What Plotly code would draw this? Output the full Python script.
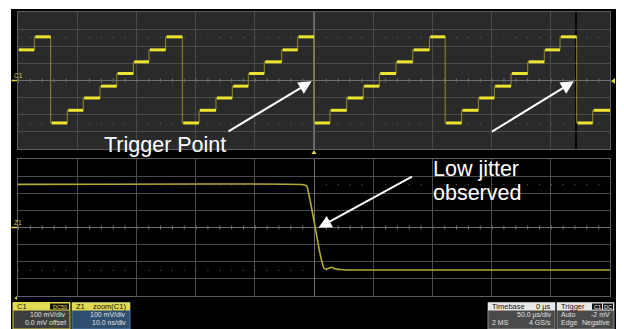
import plotly.graph_objects as go

W, H = 624, 329

# ---------------- data ----------------
# Top panel: C1, 50 us/div, 100 mV/div. Staircase: time at which each level begins (us)
step_start_us = [-250, -236.2, -222.4, -208.4, -194.9, -180.7, -166.6, -152.6, -139.4, -125.3,
                 -111.2, -97.1, -82.8, -69.0, -55.5, -42.0, -27.3, -13.8,
                 0, 13.5, 27.6, 41.6, 55.2, 69.3, 83.4, 97.5,
                 110.8, 124.7, 138.8, 152.3, 166.4, 180.5, 194.5, 207.8,
                 221.9, 235.4]
step_level_mv = [179, 255, -248, -174, -102, -33, 41, 109, 179, 255,
                 -248, -174, -102, -33, 41, 109, 179, 255,
                 -248, -174, -102, -33, 41, 109, 179, 255,
                 -248, -174, -102, -33, 41, 109, 179, 255,
                 -248, -174]
top_end_us = 250

# Bottom panel: Z1 = zoom(C1), 10 ns/div, 100 mV/div
zoom_t_ns = [-50, -2.1, -1.6, -1.2, -0.7, 0.2, 1.0, 1.5, 1.7, 2.1, 2.6, 3.0, 3.5, 4.4, 5.5, 50]
zoom_v_mv = [252, 251, 248, 240, 165, 2, -150, -220, -238, -243, -236, -232, -241, -245, -248, -248]

# ---------------- geometry helpers (pixels -> paper) ----------------
def px(x):
    return x / W

def py(y):
    return 1 - y / H

X0, X1 = 18, 610
TOP_Y0, TOP_Y1 = 12, 149
BOT_Y0, BOT_Y1 = 159, 296

fig = go.Figure()

# staircase: thin transitions
xs = step_start_us + [top_end_us]
ys = step_level_mv + [step_level_mv[-1]]
fig.add_trace(go.Scatter(x=xs, y=ys, mode="lines", line=dict(color="#8f8c2c", width=1, shape="hv"),
                         xaxis="x", yaxis="y", hoverinfo="skip", showlegend=False))
# staircase: bright plateaus
hx, hy = [], []
for i, lvl in enumerate(step_level_mv):
    hx += [xs[i] + 0.8, xs[i + 1], None]
    hy += [lvl, lvl, None]
fig.add_trace(go.Scatter(x=hx, y=hy, mode="lines", line=dict(color="#ece42e", width=3),
                         xaxis="x", yaxis="y", hoverinfo="skip", showlegend=False))

# zoomed edge
fig.add_trace(go.Scatter(x=zoom_t_ns, y=zoom_v_mv, mode="lines",
                         line=dict(color="#b3aa30", width=1.6, shape="spline", smoothing=0.6),
                         xaxis="x2", yaxis="y2", hoverinfo="skip", showlegend=False))

grid = "#4b4b4b"
axcommon = dict(showticklabels=False, ticks="", showgrid=True, gridcolor=grid, gridwidth=1,
                zeroline=True, zerolinecolor="#6e6e6e", zerolinewidth=1,
                showline=True, linecolor="#5e5e5e", linewidth=1, mirror=True, fixedrange=True)

fig.update_layout(
    width=W, height=H, margin=dict(l=0, r=0, t=0, b=0),
    paper_bgcolor="white", plot_bgcolor="black", showlegend=False,
    xaxis=dict(domain=[px(X0), px(X1)], range=[-250, 250], dtick=50, anchor="y", **axcommon),
    yaxis=dict(domain=[py(TOP_Y1), py(TOP_Y0)], range=[-400, 400], dtick=100, anchor="x", **axcommon),
    xaxis2=dict(domain=[px(X0), px(X1)], range=[-50, 50], dtick=10, anchor="y2", **axcommon),
    yaxis2=dict(domain=[py(BOT_Y1), py(BOT_Y0)], range=[-400, 400], dtick=100, anchor="x2", **axcommon),
)

shapes = []
# black instrument frame
shapes.append(dict(type="rect", xref="paper", yref="paper", x0=px(11), x1=px(616), y0=0, y1=py(9),
                   fillcolor="black", line=dict(width=0), layer="below"))
# top panel dark background
shapes.append(dict(type="rect", xref="paper", yref="paper", x0=px(X0), x1=px(X1), y0=py(TOP_Y1), y1=py(TOP_Y0),
                   fillcolor="#2a2a2a", line=dict(width=0), layer="below"))
# center tick marks & dotted lines
for xr, yr in (("x", "y"), ("x2", "y2")):
    shapes.append(dict(type="line", xref="paper", yref=yr, x0=px(X0), x1=px(X1), y0=0, y1=0,
                       line=dict(color="#707070", width=4, dash="1px,10.84px"), layer="below"))
    for lv in (250, -250):
        shapes.append(dict(type="line", xref="paper", yref=yr, x0=px(X0), x1=px(X1), y0=lv, y1=lv,
                           line=dict(color="#6a6a6a", width=1, dash="1px,10.84px"), layer="below"))
# trigger position line in top panel and dark cursor line
shapes.append(dict(type="line", xref="x", yref="paper", x0=0, x1=0, y0=py(TOP_Y1), y1=py(TOP_Y0),
                   line=dict(color="#9a9a9a", width=1), layer="below"))
shapes.append(dict(type="line", xref="x", yref="paper", x0=221.3, x1=221.3, y0=py(TOP_Y1), y1=py(TOP_Y0),
                   line=dict(color="#050505", width=2), layer="below"))
# C1 / Z1 ground markers
for yy in (80.5, 227.5):
    shapes.append(dict(type="line", xref="paper", yref="paper", x0=px(11.5), x1=px(17), y0=py(yy), y1=py(yy),
                       line=dict(color="#e0d840", width=1.5)))
# trigger position triangle (below top panel)
shapes.append(dict(type="path", xref="paper", yref="paper",
                   path=f"M {px(311.5)} {py(154)} L {px(316.5)} {py(154)} L {px(314)} {py(150)} Z",
                   fillcolor="#e0d840", line=dict(width=0)))
# trigger level triangle (right of top panel)
shapes.append(dict(type="path", xref="paper", yref="paper",
                   path=f"M {px(615)} {py(78)} L {px(615)} {py(84)} L {px(611)} {py(81)} Z",
                   fillcolor="#e0d840", line=dict(width=0)))
# small yellow marker bottom left
shapes.append(dict(type="path", xref="paper", yref="paper",
                   path=f"M {px(17)} {py(296)} L {px(17)} {py(300)} L {px(14.5)} {py(298)} Z",
                   fillcolor="#e0d840", line=dict(width=0)))

annotations = []
def txt(x, y, s, size=7, color="#e0e0e0", xanchor="left", family="Liberation Sans, Arial, sans-serif"):
    annotations.append(dict(x=px(x), y=py(y), xref="paper", yref="paper", text=s, showarrow=False,
                            xanchor=xanchor, yanchor="middle", font=dict(size=size, color=color, family=family)))

def rect(x0, x1, y0, y1, fill, line=None):
    shapes.append(dict(type="rect", xref="paper", yref="paper", x0=px(x0), x1=px(x1), y0=py(y1), y1=py(y0),
                       fillcolor=fill, line=dict(width=1 if line else 0, color=line or fill)))

# channel labels
txt(11.5, 75.5, "C1", size=6.5, color="#d8d040")
txt(11.5, 222.5, "Z1", size=6.5, color="#d8d040")

R0, R1, R2 = 306.5, 314.5, 322.5
# status boxes
rect(13, 70, 302.5, 329, "#3e3e3e", "#d8d040")
rect(13, 70, 302.5, 310.5, "#e2da50")
txt(15, R0, "C1", size=7.5, color="#111")
rect(50, 69, 303.5, 309.5, "#111111")
txt(59.5, R0, "DC50", size=5.5, color="#e2da50", xanchor="center")
txt(68, R1, "100 mV/div", xanchor="right")
txt(68, R2, "0.0 mV offset", xanchor="right")

rect(72, 130, 302.5, 329, "#2f4f70", "#4f7fb0")
rect(72, 130, 302.5, 310.5, "#e2da50")
txt(74, R0, "Z1", size=7.5, color="#111")
txt(128, R0, "zoom(C1)", size=7.5, color="#111", xanchor="right")
txt(128, R1, "100 mV/div", xanchor="right")
txt(128, R2, "10.0 ns/div", xanchor="right")

rect(488, 555, 302.5, 329, "#4a4a4a", "#8a8a8a")
rect(488, 555, 302.5, 310.5, "#e8e8e8")
txt(490, R0, "Timebase", size=7.5, color="#111")
txt(553, R0, "0 µs", size=7.5, color="#111", xanchor="right")
txt(553, R1, "50.0 µs/div", xanchor="right")
txt(490, R2, "2 MS")
txt(553, R2, "4 GS/s", xanchor="right")

rect(557, 614, 302.5, 329, "#4a4a4a", "#8a8a8a")
rect(557, 614, 302.5, 310.5, "#e8e8e8")
txt(559, R0, "Trigger", size=7.5, color="#111")
rect(592, 602, 303.5, 309.5, "#111111")
txt(597, R0, "C1", size=5.5, color="#ffffff", xanchor="center")
rect(603, 613, 303.5, 309.5, "#111111")
txt(608, R0, "DC", size=5.5, color="#ffffff", xanchor="center")
txt(559, R1, "Auto")
txt(612, R1, "-2 mV", xanchor="right")
txt(559, R2, "Edge")
txt(612, R2, "Negative", xanchor="right")

# callout arrows
def arrow(xref, yref, x, y, ax, ay):
    annotations.append(dict(x=x, y=y, ax=ax, ay=ay, xref=xref, yref=yref, axref=xref, ayref=yref,
                            text="", showarrow=True, arrowhead=2, arrowsize=1.3, arrowwidth=2,
                            arrowcolor="white", standoff=0))

arrow("x", "y", -2.0, -5, -73.5, -302)
arrow("x", "y", 219.5, -5, 149.0, -304)
arrow("x2", "y2", 0.75, -2, 16.8, 302)

big = "Liberation Sans, Arial, sans-serif"
txt(102, 145, "Trigger Point", size=21.5, color="white", family=big)
txt(431, 168.5, "Low jitter", size=21.5, color="white", family=big)
txt(431, 192.5, "observed", size=21.5, color="white", family=big)

fig.update_layout(shapes=shapes, annotations=annotations)
fig.write_html("out.html", config={"displayModeBar": False},
               post_script="document.body.style.margin='0';document.body.style.overflow='hidden';")
